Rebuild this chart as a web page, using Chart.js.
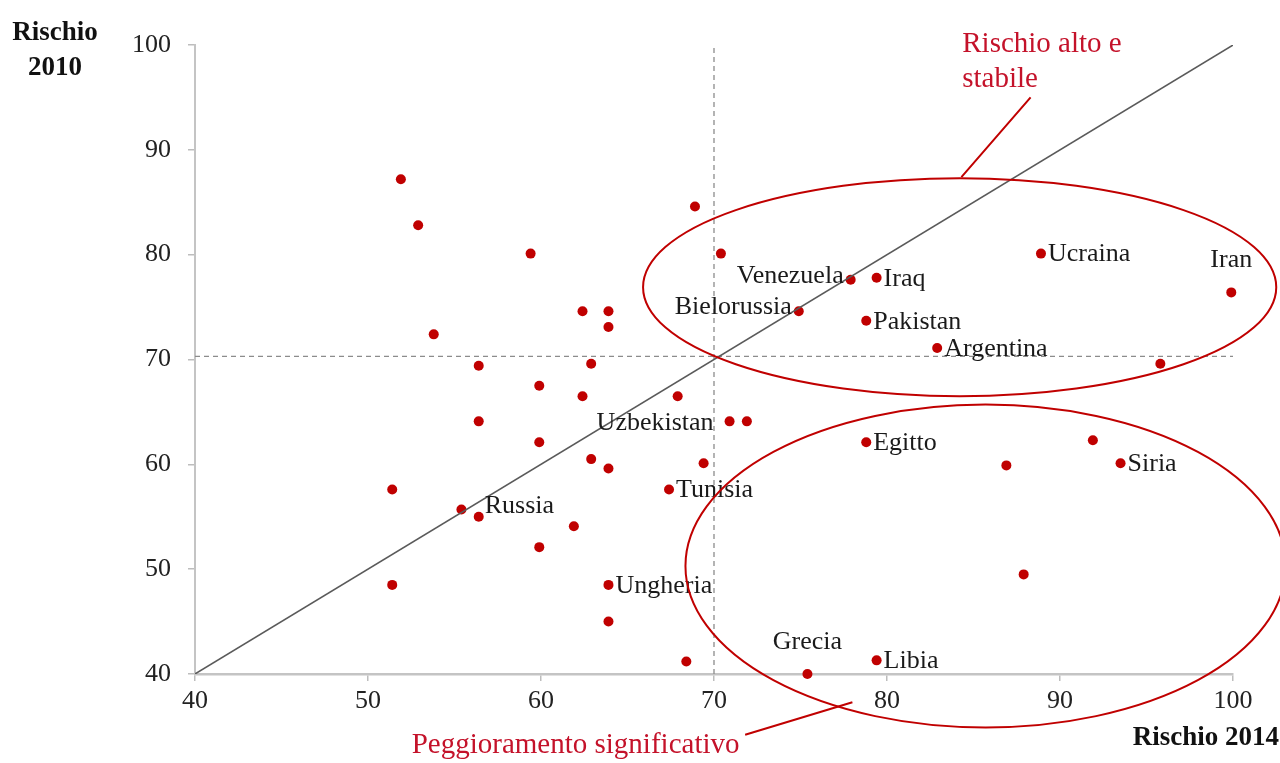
<!DOCTYPE html>
<html>
<head>
<meta charset="utf-8">
<script src="https://cdn.jsdelivr.net/npm/chart.js@4/dist/chart.umd.min.js"></script>
<style>
html,body{margin:0;padding:0;background:#fff;}
canvas{display:block;}
</style>
</head>
<body>
<canvas id="c" width="1280" height="763"></canvas>
<script>
// ---- data ----
const rischio2014 = [51.9,52.9,59.4,53.8,62.4,63.9,63.9,56.4,62.9,59.9,62.4,67.9,56.4,59.9,62.9,63.9,69.4,51.4,55.4,56.4,61.9,59.9,51.4,63.9,63.9,68.4,67.4,68.9,70.4,70.9,71.9,77.9,79.4,74.9,78.8,82.9,88.9,99.9,95.8,78.8,91.9,86.9,93.5,87.9,75.4,79.4];
const rischio2010 = [87.2,82.8,80.1,72.4,74.6,74.6,73.1,69.4,69.6,67.5,66.5,66.5,64.1,62.1,60.5,59.6,60.1,57.6,55.7,55.0,54.1,52.1,48.5,48.5,45.0,41.2,57.6,84.6,80.1,64.1,64.1,77.6,77.8,74.6,73.7,71.1,80.1,76.4,69.6,62.1,62.3,59.9,60.1,49.5,40.0,41.3];
const paesi = ['','','','','','','','','','','','','','','','','','','','Russia','','','','Ungheria','','','Tunisia','','','Uzbekistan','','Venezuela','Iraq','Bielorussia','Pakistan','Argentina','Ucraina','Iran','','Egitto','','','Siria','','Grecia','Libia'];
const tickValues = [40,50,60,70,80,90,100];
const soglia2014 = 70;
const soglia2010 = 70.3;
const annotazioneAlto = ['Rischio alto e', 'stabile'];
const annotazioneBasso = 'Peggioramento significativo';
const titoloY = ['Rischio', '2010'];
const titoloX = 'Rischio 2014';

// ---- style / placement (not data) ----
const labelSide = {Russia:'rightUp',Ungheria:'right',Tunisia:'right',Uzbekistan:'leftFar',Venezuela:'left',Iraq:'right',Bielorussia:'left',Pakistan:'right',Argentina:'right',Ucraina:'right',Iran:'above',Egitto:'right',Siria:'right',Grecia:'above',Libia:'right'};
const ellipses = [ {cx:84.2, cy:76.9, rx:18.3, ry:10.4}, {cx:85.7, cy:50.3, rx:17.35, ry:15.4} ];
const serif = '"Liberation Serif", "DejaVu Serif", serif';
const RED = '#c00000';
const TEXTRED = '#c4122a';

const scatterData = rischio2014.map((x,i)=>({x:x, y:rischio2010[i]}));

const overlay = {
  id:'overlay',
  afterDatasetsDraw(chart){
    const ctx = chart.ctx, xs = chart.scales.x, ys = chart.scales.y;
    ctx.save();
    // country labels
    const meta = chart.getDatasetMeta(3);
    ctx.font = '26px ' + serif;
    ctx.fillStyle = '#1a1a1a';
    ctx.textBaseline = 'middle';
    meta.data.forEach((el,i)=>{
      const n = paesi[i]; if(!n) return;
      const s = labelSide[n] || 'right';
      let x = el.x, y = el.y;
      if(s==='right'){ctx.textAlign='left'; ctx.fillText(n, x+7, y+1);}
      else if(s==='rightUp'){ctx.textAlign='left'; ctx.fillText(n, x+6, y-11);}
      else if(s==='left'){ctx.textAlign='right'; ctx.fillText(n, x-7, y-4);}
      else if(s==='leftFar'){ctx.textAlign='right'; ctx.fillText(n, x-16, y+2);}
      else if(s==='above'){ctx.textAlign='center'; ctx.fillText(n, x, y-32);}
    });
    // ellipses
    ctx.strokeStyle = RED; ctx.lineWidth = 2;
    const pxPerX = Math.abs(xs.getPixelForValue(50)-xs.getPixelForValue(40))/10;
    const pxPerY = Math.abs(ys.getPixelForValue(50)-ys.getPixelForValue(40))/10;
    ellipses.forEach(e=>{
      ctx.beginPath();
      ctx.ellipse(xs.getPixelForValue(e.cx), ys.getPixelForValue(e.cy), e.rx*pxPerX, e.ry*pxPerY, 0, 0, Math.PI*2);
      ctx.stroke();
    });
    // leader lines
    ctx.beginPath();
    ctx.moveTo(xs.getPixelForValue(88.3), ys.getPixelForValue(95.0));
    ctx.lineTo(xs.getPixelForValue(84.3), ys.getPixelForValue(87.4));
    ctx.moveTo(xs.getPixelForValue(71.8), ys.getPixelForValue(34.2));
    ctx.lineTo(xs.getPixelForValue(78.0), ys.getPixelForValue(37.3));
    ctx.stroke();
    // annotation texts
    ctx.fillStyle = TEXTRED;
    ctx.font = '29px ' + serif;
    ctx.textAlign = 'left';
    ctx.fillText(annotazioneAlto[0], xs.getPixelForValue(84.35), ys.getPixelForValue(100.1));
    ctx.fillText(annotazioneAlto[1], xs.getPixelForValue(84.35), ys.getPixelForValue(96.7));
    ctx.textAlign = 'center';
    ctx.fillText(annotazioneBasso, xs.getPixelForValue(62.0), ys.getPixelForValue(33.2));
    // axis titles
    ctx.fillStyle = '#111';
    ctx.font = 'bold 27px ' + serif;
    ctx.textAlign = 'center';
    ctx.fillText(titoloY[0], 55, 33);
    ctx.fillText(titoloY[1], 55, 68);
    ctx.textAlign = 'right';
    ctx.fillText(titoloX, 1279, 738);
    ctx.restore();
  }
};

new Chart(document.getElementById('c'), {
  type:'scatter',
  data:{
    datasets:[
      {type:'line', data:[{x:40,y:40},{x:100,y:100}], borderColor:'#5a5a5a', borderWidth:1.5, pointRadius:0, fill:false},
      {type:'line', data:[{x:soglia2014,y:40},{x:soglia2014,y:100}], borderColor:'#8c8c8c', borderWidth:1.3, borderDash:[5,4], pointRadius:0, fill:false},
      {type:'line', data:[{x:40,y:soglia2010},{x:100,y:soglia2010}], borderColor:'#8c8c8c', borderWidth:1.3, borderDash:[5,4], pointRadius:0, fill:false},
      {data:scatterData, backgroundColor:RED, borderColor:RED, pointRadius:5, pointHoverRadius:5, borderWidth:0, clip:false}
    ]
  },
  options:{
    responsive:false, animation:false,
    layout:{padding:{left:0, top:45, right:47, bottom:0}},
    plugins:{legend:{display:false}, tooltip:{enabled:false}},
    scales:{
      x:{type:'linear', min:40, max:100,
        afterFit(s){s.height = 89;},
        afterBuildTicks(s){s.ticks = tickValues.map(v=>({value:v}));},
        grid:{display:true, drawOnChartArea:false, drawTicks:true, tickLength:7, color:'#bdbdbd', lineWidth:1.5},
        border:{display:true, color:'#c4c4c4', width:2.5},
        ticks:{font:{family:serif, size:26}, color:'#222', padding:5, maxRotation:0}
      },
      y:{type:'linear', min:40, max:100,
        afterFit(s){s.width = 195;},
        afterBuildTicks(s){s.ticks = tickValues.map(v=>({value:v}));},
        grid:{display:true, drawOnChartArea:false, drawTicks:true, tickLength:7, color:'#bdbdbd', lineWidth:1.5},
        border:{display:true, color:'#c4c4c4', width:2},
        ticks:{font:{family:serif, size:26}, color:'#222', padding:17}
      }
    }
  },
  plugins:[overlay]
});
</script>
</body>
</html>
